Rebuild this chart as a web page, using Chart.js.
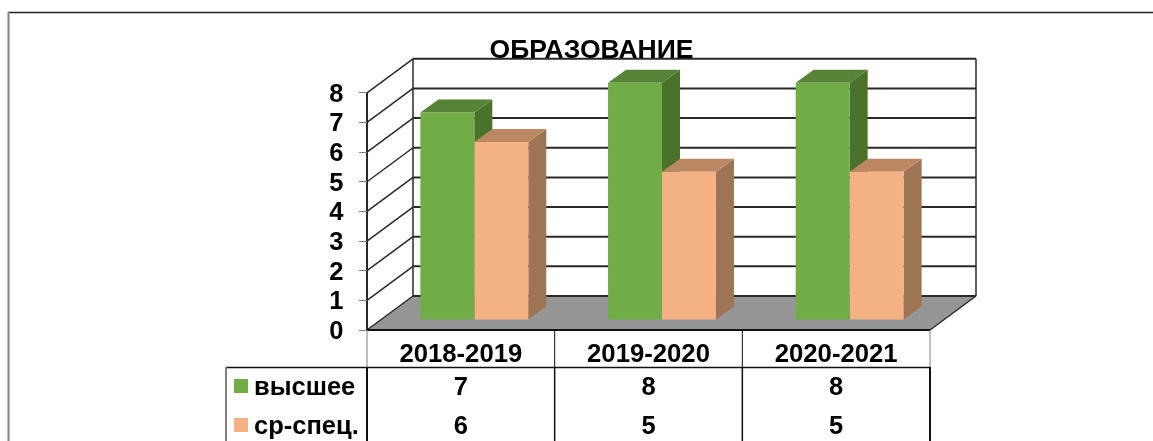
<!DOCTYPE html>
<html>
<head>
<meta charset="utf-8">
<style>
html, body { margin: 0; padding: 0; background: #fff; overflow: hidden; }
#wrap { width: 1153px; height: 441px; }
</style>
<script src="https://cdn.jsdelivr.net/npm/chart.js@4/dist/chart.umd.min.js"></script>
</head>
<body>
<div id="wrap"><canvas id="grafico"></canvas></div>
<script>
var categories = ['2018-2019', '2019-2020', '2020-2021'];
var vysshee = [7, 8, 8];
var srSpec = [6, 5, 5];
var seriesNames = ['высшее', 'ср-спец.'];
var seriesColors = ['#70AD47', '#F4B183'];
var sideColors = ['#4A722B', '#9E7554'];
var topColors = ['#568336', '#BC8864'];
var titleText = 'ОБРАЗОВАНИЕ';

var fontName = '"Liberation Sans", Arial, sans-serif';

// depth of the box and of the bars, in pixels
var wallDX = 46, wallDY = -34;
var barShiftX = 13.5, barShiftY = -10;
var barDX = 18, barDY = -13;

function line(c, x1, y1, x2, y2, color, w) {
    c.strokeStyle = color;
    c.lineWidth = w;
    c.beginPath();
    c.moveTo(x1, y1);
    c.lineTo(x2, y2);
    c.stroke();
}

function poly(c, pts, color) {
    c.fillStyle = color;
    c.beginPath();
    c.moveTo(pts[0][0], pts[0][1]);
    for (var i = 1; i < pts.length; i++) c.lineTo(pts[i][0], pts[i][1]);
    c.closePath();
    c.fill();
}

var box3d = {
    id: 'box3d',
    beforeDraw: function (chart) {
        var c = chart.ctx, a = chart.chartArea, y = chart.scales.y;
        c.save();
        // outer frame
        line(c, 8, 12.5, 1153, 12.5, '#222', 1.5);
        line(c, 8.5, 12, 8.5, 441, '#808080', 2);
        // floor
        var y0 = y.getPixelForValue(0);
        poly(c, [[a.left, y0], [a.right, y0], [a.right + wallDX, y0 + wallDY], [a.left + wallDX, y0 + wallDY]], '#969696');
        // grid on the back wall and the left wall
        y.ticks.forEach(function (t) {
            var py = y.getPixelForValue(t.value);
            line(c, a.left + wallDX, py + wallDY, a.right + wallDX, py + wallDY, '#2a2a2a', 2);
            line(c, a.left, py, a.left + wallDX, py + wallDY, '#2a2a2a', 1.5);
        });
        var yTop = y.getPixelForValue(y.max);
        line(c, a.left + wallDX, yTop + wallDY, a.left + wallDX, y0 + wallDY, '#2a2a2a', 1.5);
        line(c, a.right + wallDX, yTop + wallDY, a.right + wallDX, y0 + wallDY, '#2a2a2a', 1.5);
        line(c, a.right, y0, a.right + wallDX, y0 + wallDY, '#2a2a2a', 1.5);
        line(c, a.left, yTop, a.left, y0, '#2a2a2a', 2);
        line(c, a.left, y0, a.right, y0, '#111', 2);
        c.restore();
    },
    beforeDatasetsDraw: function (chart) {
        var c = chart.ctx;
        c.save();
        c.translate(barShiftX, barShiftY);
        chart.data.datasets.forEach(function (ds, d) {
            chart.getDatasetMeta(d).data.forEach(function (bar) {
                var l = bar.x - bar.width / 2, r = bar.x + bar.width / 2;
                poly(c, [[r, bar.y], [r + barDX, bar.y + barDY], [r + barDX, bar.base + barDY], [r, bar.base]], sideColors[d]);
                poly(c, [[l, bar.y], [l + barDX, bar.y + barDY], [r + barDX, bar.y + barDY], [r, bar.y]], topColors[d]);
            });
        });
    },
    afterDatasetsDraw: function (chart) {
        chart.ctx.restore();
    },
    afterDraw: function (chart) {
        // y labels sit a bit lower than the scale puts them, and the data table under the chart
        var c = chart.ctx, a = chart.chartArea, x = chart.scales.x, y = chart.scales.y;
        var colW = (a.right - a.left) / categories.length;
        var headBottom = 367, tableLeft = 226, rowY = [388, 427];
        var rows = [vysshee, srSpec];
        c.save();
        line(c, a.left, a.bottom, a.left, headBottom, '#808080', 1);
        line(c, a.right, a.bottom, a.right, headBottom, '#808080', 1);
        for (var i = 1; i < categories.length; i++) {
            line(c, a.left + colW * i, a.bottom, a.left + colW * i, headBottom, '#111', 1);
            line(c, a.left + colW * i, headBottom, a.left + colW * i, 441, '#111', 1.5);
        }
        line(c, tableLeft, headBottom + 0.5, a.right, headBottom + 0.5, '#111', 1.5);
        line(c, a.left, headBottom, a.left, 441, '#111', 2);
        line(c, a.right, headBottom, a.right, 441, '#111', 2);
        line(c, tableLeft, headBottom, tableLeft, 441, '#808080', 2);
        c.font = 'bold 25.5px ' + fontName;
        c.fillStyle = '#000';
        c.textBaseline = 'middle';
        c.textAlign = 'right';
        y.ticks.forEach(function (t) {
            c.fillText(String(t.value), 343.5, y.getPixelForValue(t.value) + 2);
        });
        rows.forEach(function (row, r) {
            c.fillStyle = seriesColors[r];
            c.fillRect(234, rowY[r] - 9, 14, 14);
            c.fillStyle = '#000';
            c.textAlign = 'left';
            c.fillText(seriesNames[r], 254, rowY[r]);
            c.textAlign = 'center';
            row.forEach(function (v, i) {
                c.fillText(String(v), x.getPixelForValue(i), rowY[r]);
            });
        });
        c.restore();
    }
};

var ctx = document.getElementById('grafico').getContext('2d');
var grafico = new Chart(ctx, {
    type: 'bar',
    data: {
        labels: categories,
        datasets: [
            { label: seriesNames[0], data: vysshee, backgroundColor: seriesColors[0] },
            { label: seriesNames[1], data: srSpec, backgroundColor: seriesColors[1] }
        ]
    },
    options: {
        responsive: true,
        maintainAspectRatio: false,
        animation: false,
        layout: { padding: { left: 253, right: 223, top: 0, bottom: 0 } },
        datasets: { bar: { categoryPercentage: 0.575, barPercentage: 1 } },
        plugins: {
            legend: { display: false },
            tooltip: { enabled: false },
            title: {
                display: true,
                text: titleText,
                color: '#000',
                font: { family: fontName, size: 26.5, weight: 'bold' },
                padding: { top: 35, bottom: 26 }
            }
        },
        scales: {
            x: {
                grid: { display: false },
                border: { display: false },
                afterFit: function (s) { s.height = 111; },
                ticks: {
                    color: '#000',
                    padding: 1,
                    maxRotation: 0,
                    autoSkip: false,
                    font: { family: fontName, size: 25.7, weight: 'bold' }
                }
            },
            y: {
                min: 0,
                max: 8,
                afterFit: function (s) { s.width = 114; },
                border: { display: false },
                grid: { drawOnChartArea: false, color: '#808080', tickLength: 8 },
                ticks: {
                    display: false,
                    stepSize: 1,
                    autoSkip: false
                }
            }
        }
    },
    plugins: [box3d]
});
</script>
</body>
</html>
